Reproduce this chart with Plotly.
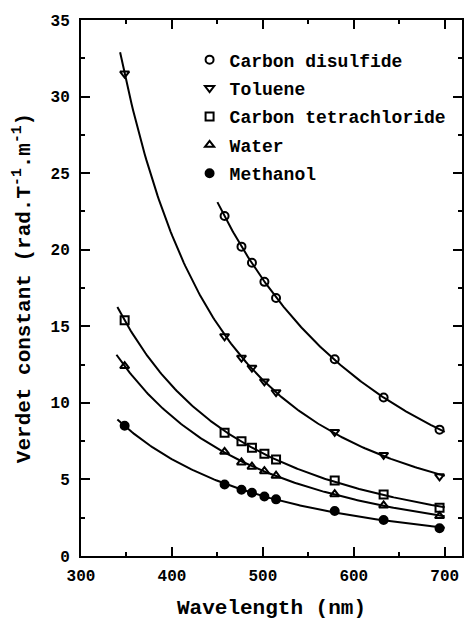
import numpy as np
import plotly.graph_objects as go

# Measurement wavelengths (nm)
wl_uv = [348.0]
wl_vis = [457.9, 476.5, 488.0, 501.7, 514.5, 579.0, 632.8, 694.3]

# Verdet constants (rad T^-1 m^-1)
carbon_disulfide = [22.2, 20.2, 19.15, 17.9, 16.85, 12.85, 10.35, 8.25]
toluene = [31.5, 14.35, 12.95, 12.3, 11.4, 10.7, 8.1, 6.6, 5.2]
carbon_tetrachloride = [15.4, 8.05, 7.5, 7.07, 6.67, 6.3, 4.93, 4.02, 3.15]
water = [12.4, 6.8, 6.11, 5.83, 5.54, 5.24, 4.04, 3.3, 2.61]
methanol = [8.5, 4.67, 4.33, 4.13, 3.89, 3.7, 2.94, 2.35, 1.81]

FONT = "Liberation Mono"

series = [
    ("Carbon disulfide", wl_vis, carbon_disulfide, "circle-open", 450),
    ("Toluene", wl_uv + wl_vis, toluene, "triangle-down-open", 343),
    ("Carbon tetrachloride", wl_uv + wl_vis, carbon_tetrachloride, "square-open", 340),
    ("Water", wl_uv + wl_vis, water, "triangle-up-open", 339),
    ("Methanol", wl_uv + wl_vis, methanol, "circle", 340),
]

fig = go.Figure()

for i, (name, wl, v, sym, start) in enumerate(series):
    wl = np.asarray(wl)
    v = np.asarray(v)
    # least-squares dispersion fit: V = c0 + c1/λ² + c2/λ⁴
    coef = np.polyfit(1.0 / wl**2, v, 2)
    xs = np.linspace(start, 700, 200)
    ys = np.polyval(coef, 1.0 / xs**2)
    fig.add_trace(go.Scatter(
        x=xs, y=ys, mode="lines", line=dict(color="black", width=2),
        showlegend=False, hoverinfo="skip",
    ))
    fig.add_trace(go.Scatter(
        x=wl, y=v, mode="markers", name=name, legendgroup=f"g{i}",
        marker=dict(symbol=sym, size=8, color="black",
                    line=dict(color="black", width=2)),
    ))

axis_common = dict(
    showline=True, linecolor="black", linewidth=2, mirror="allticks",
    ticks="inside", ticklen=9, tickwidth=2, tickcolor="black",
    showgrid=False, zeroline=False,
    tickfont=dict(family=FONT, size=16, color="black", weight="bold"),
)

fig.update_xaxes(
    range=[300, 719], tickvals=[300, 400, 500, 600, 700],
    ticklabelstandoff=4,
    minor=dict(dtick=50, tick0=300, ticks="inside", ticklen=4, tickwidth=2,
               tickcolor="black", showgrid=False),
    title=dict(text="Wavelength (nm)", standoff=16,
               font=dict(family=FONT, size=21, color="black", weight="bold")),
    **axis_common,
)
fig.update_yaxes(
    range=[0, 35], dtick=5, tick0=0,
    ticklabelstandoff=6,
    minor=dict(dtick=2.5, tick0=0, ticks="inside", ticklen=4, tickwidth=2,
               tickcolor="black", showgrid=False),
    title=dict(text="Verdet constant (rad.T<sup>-1</sup>.m<sup>-1</sup>)",
               standoff=14,
               font=dict(family=FONT, size=21, color="black", weight="bold")),
    **axis_common,
)

fig.update_layout(
    width=464, height=620,
    margin=dict(l=81, r=0, t=20, b=64),
    paper_bgcolor="white", plot_bgcolor="white",
    showlegend=True,
    legend=dict(
        x=0.285, y=0.96, xanchor="left", yanchor="top",
        bgcolor="rgba(0,0,0,0)", borderwidth=0,
        font=dict(family=FONT, size=18, color="black", weight="bold"),
        tracegroupgap=2, itemsizing="trace",
    ),
)

fig.write_html("out.html")
